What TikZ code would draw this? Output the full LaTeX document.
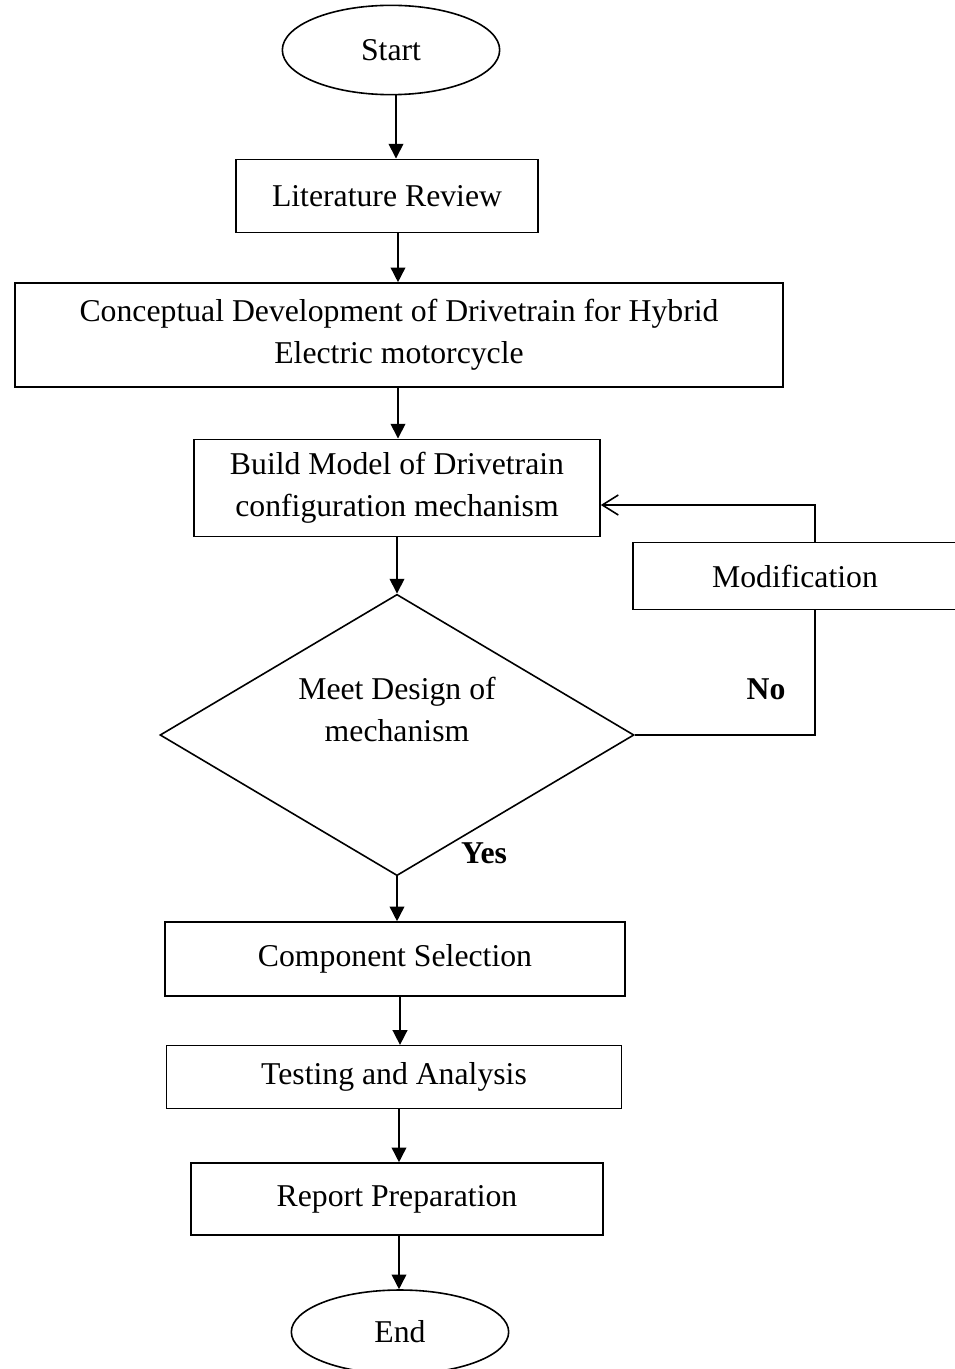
\documentclass[tikz,border=0pt]{standalone}
\usepackage{fontspec}
\setmainfont{Liberation Serif}
\usetikzlibrary{shapes.geometric,arrows.meta}

\tikzset{
  every node/.style={font=\fontsize{23.8pt}{31.5pt}\selectfont},
  procbox/.style={draw, rectangle, align=center, inner sep=0pt},
  terminal/.style={draw, ellipse, inner sep=0pt, minimum width=163pt, minimum height=67pt},
  decision/.style={draw, diamond, inner sep=0pt, minimum width=355.5pt, minimum height=211pt},
  flow/.style={-{Triangle[width=11pt,length=11pt]}},
  back/.style={-{Straight Barb[width=15pt,length=12pt]}},
}

\begin{document}
\begin{tikzpicture}[x=0.75pt, y=-0.75pt, line width=1.2pt]
  \useasboundingbox (0,0) rectangle (954,1369);
  \node [terminal] (start) at (391,50) {Start};
  \node [procbox, minimum width=226.5pt, minimum height=55pt] (lit) at (387,196) {Literature Review};
  \node [procbox, minimum width=576pt, minimum height=78pt] (concept) at (399,335)
    {Conceptual Development of Drivetrain for Hybrid\\Electric motorcycle};
  \node [procbox, minimum width=304.5pt, minimum height=73pt] (build) at (397,488)
    {Build Model of Drivetrain\\configuration mechanism};
  \node [decision, label={[align=center, yshift=19pt]center:Meet Design of\\mechanism}] (meet) at (397,735) {};
  \node [procbox, minimum width=243pt, minimum height=50pt] (mod) at (795,576) {Modification};
  \node [procbox, minimum width=345pt, minimum height=55.5pt] (comp) at (395,959) {Component Selection};
  \node [procbox, minimum width=341pt, minimum height=47pt] (test) at (394,1077) {Testing and Analysis};
  \node [procbox, minimum width=309pt, minimum height=54pt] (report) at (397,1199) {Report Preparation};
  \node [terminal, minimum height=63pt] (end) at (400,1332) {End};
  \node [font=\fontsize{23.8pt}{31.5pt}\selectfont\bfseries] (no) at (766,689) {No};
  \node [font=\fontsize{23.8pt}{31.5pt}\selectfont\bfseries] (yes) at (484,853) {Yes};
  \coordinate (turn) at (815,505);

  \draw [flow] (396,0 |- start.south) -- (396,0 |- lit.north);
  \draw [flow] (398,0 |- lit.south) -- (398,0 |- concept.north);
  \draw [flow] (398,0 |- concept.south) -- (398,0 |- build.north);
  \draw [flow] (397,0 |- build.south) -- (meet.north);
  \draw [flow] (meet.south) -- (397,0 |- comp.north);
  \draw [flow] (400,0 |- comp.south) -- (400,0 |- test.north);
  \draw [flow] (399,0 |- test.south) -- (399,0 |- report.north);
  \draw [flow] (399,0 |- report.south) -- (399,0 |- end.north);
  \draw (meet.east) -| (turn |- mod.south);
  \draw [back] (turn |- mod.north) -- (turn) -- (build.east |- turn);
\end{tikzpicture}
\end{document}
